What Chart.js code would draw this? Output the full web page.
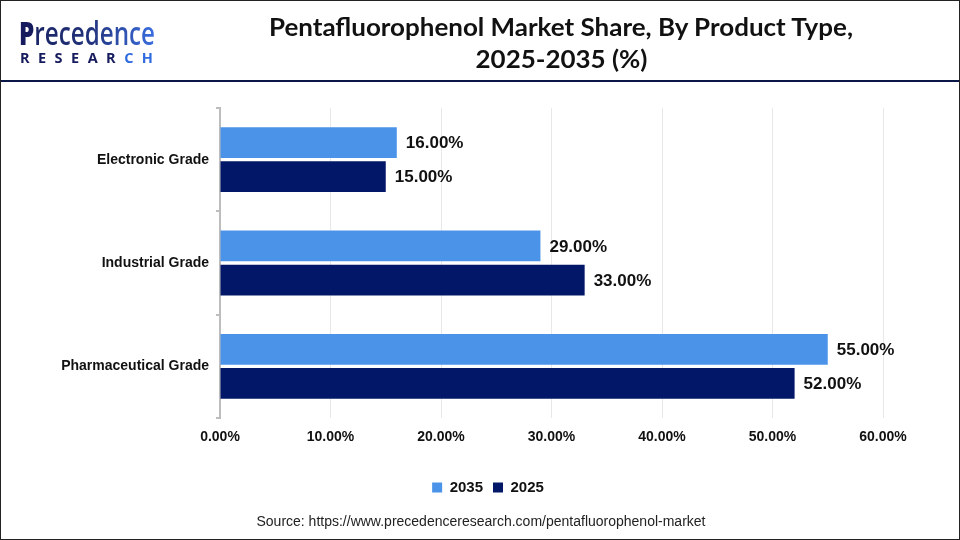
<!DOCTYPE html>
<html><head><meta charset="utf-8">
<script src="https://cdn.jsdelivr.net/npm/chart.js@4"></script>
<style>
html,body{margin:0;padding:0;background:#fff;}
#wrap{position:relative;width:960px;height:540px;overflow:hidden;box-sizing:border-box;border:1px solid #222;}
#hdrline{position:absolute;left:0;top:79px;width:960px;height:2px;background:#0b1747;}
#title{position:absolute;left:160px;width:800px;top:10px;text-align:center;font-family:Lato,"Liberation Sans",sans-serif;font-weight:700;font-size:24px;line-height:32px;color:#111;}
#title span{display:inline-block;white-space:nowrap;}
#logo{position:absolute;left:18px;top:13px;width:140px;}
#l1{display:inline-block;white-space:nowrap;font-family:"Open Sans","DejaVu Sans",sans-serif;font-size:32px;font-weight:600;line-height:37px;transform-origin:0 0;}
#l1 .p{color:#151b5c;font-weight:800;}
#l1 .r{background:linear-gradient(90deg,#1a2566 0%,#22327a 45%,#3a6fe0 100%);-webkit-background-clip:text;background-clip:text;color:transparent;}
#l2{display:flex;justify-content:space-between;width:133px;margin-left:1px;margin-top:-1px;font-family:"Open Sans","DejaVu Sans",sans-serif;font-size:14.5px;font-weight:700;line-height:16px;color:#151b5c;}
#l2 .b{color:#2f6be0;}
#src{position:absolute;left:0;width:960px;top:512px;text-align:center;font-family:"Liberation Sans",Arial,sans-serif;font-size:14px;color:#222;}
canvas{position:absolute;left:0;top:0;}
</style></head>
<body>
<div id="wrap">
<canvas id="c" width="958" height="538"></canvas>
<div id="logo"><div id="l1"><span class="p">P</span><span class="r">recedence</span></div>
<div id="l2"><span>R</span><span>E</span><span>S</span><span>E</span><span>A</span><span>R</span><span class="b">C</span><span class="b">H</span></div></div>
<div id="title"><span id="t1">Pentafluorophenol Market Share, By Product Type,</span><br><span id="t2">2025-2035 (%)</span></div>
<div id="hdrline"></div>
<div id="src">Source: https://www.precedenceresearch.com/pentafluorophenol-market</div>
</div>
<script>
const categories = ["Electronic Grade", "Industrial Grade", "Pharmaceutical Grade"];
const series2035 = [16, 29, 55];
const series2025 = [15, 33, 52];
const seriesNames = ["2035", "2025"];
const xTicks = [0, 10, 20, 30, 40, 50, 60];

// fit header text widths to the reference
(function(){
  const l1 = document.getElementById('l1');
  const w1 = l1.getBoundingClientRect().width;
  l1.style.transform = 'scaleX(' + (136 / w1) + ')';
  const t1 = document.getElementById('t1'), t2 = document.getElementById('t2');
  const s = 584 / t1.getBoundingClientRect().width;
  t1.style.transform = 'scaleX(' + s + ')';
  t2.style.transform = 'scaleX(' + s + ')';
})();

const labelPlugin = {
  id: 'barLabels',
  afterDatasetsDraw(chart) {
    const ctx = chart.ctx;
    ctx.save();
    ctx.font = 'bold 17px "Liberation Sans", Arial, sans-serif';
    ctx.fillStyle = '#111';
    ctx.textAlign = 'left';
    ctx.textBaseline = 'middle';
    chart.data.datasets.forEach((ds, i) => {
      chart.getDatasetMeta(i).data.forEach((bar, j) => {
        ctx.fillText(ds.data[j].toFixed(2) + '%', bar.x + 9, bar.y + 1);
      });
    });
    ctx.restore();
  }
};

const legendShift = {
  id: 'legendShift',
  afterLayout(chart) {
    const lg = chart.legend;
    if (lg) { lg.left += 46; lg.right += 46; lg.top += 2; lg.bottom += 2; }
  }
};

new Chart(document.getElementById('c'), {
  type: 'bar',
  data: {
    labels: categories,
    datasets: [
      { label: seriesNames[0], data: series2035, backgroundColor: '#4a93e9', categoryPercentage: 0.66, barPercentage: 0.9 },
      { label: seriesNames[1], data: series2025, backgroundColor: '#031769', categoryPercentage: 0.66, barPercentage: 0.9 }
    ]
  },
  options: {
    indexAxis: 'y',
    responsive: false,
    animation: false,
    layout: { padding: { top: 107, right: 76, bottom: 36, left: 0 } },
    scales: {
      x: {
        min: 0, max: 60,
        afterBuildTicks(s) { s.ticks = xTicks.map(v => ({ value: v })); },
        afterFit(s) { s.height = 50; },
        border: { display: false },
        grid: { color: '#e8e8e8', drawTicks: false, lineWidth: 1 },
        ticks: {
          padding: 11,
          color: '#111',
          font: { family: '"Liberation Sans", Arial, sans-serif', size: 14, weight: 'bold' },
          callback: v => v.toFixed(2) + '%'
        }
      },
      y: {
        afterFit(s) { s.width = 219; },
        border: { display: true, color: '#bdbdbd', width: 2 },
        grid: { drawOnChartArea: false, drawTicks: true, tickLength: 4, color: '#bdbdbd', lineWidth: 2 },
        ticks: {
          padding: 7,
          color: '#111',
          font: { family: '"Liberation Sans", Arial, sans-serif', size: 14, weight: 'bold' }
        }
      }
    },
    plugins: {
      legend: {
        position: 'bottom',
        labels: {
          boxWidth: 10, boxHeight: 10, padding: 10,
          color: '#111',
          font: { family: '"Liberation Sans", Arial, sans-serif', size: 15, weight: 'bold' }
        }
      },
      title: { display: false },
      tooltip: { enabled: false }
    }
  },
  plugins: [labelPlugin, legendShift]
});
</script>
</body></html>
